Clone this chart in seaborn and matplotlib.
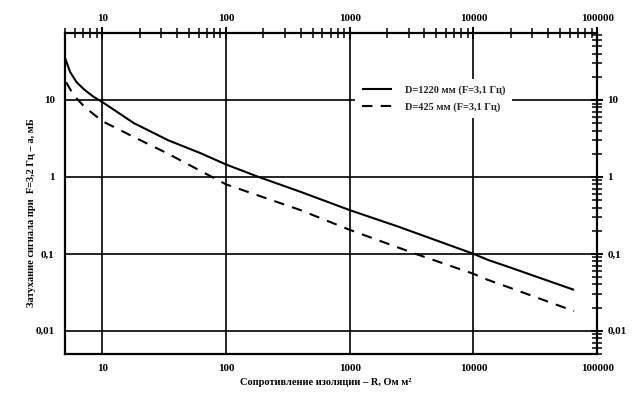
import numpy as np
import pandas as pd
import matplotlib
matplotlib.use("Agg")
import matplotlib.pyplot as plt
from matplotlib.ticker import LogLocator, FixedLocator, FixedFormatter, NullFormatter
import seaborn as sns

# ---- data ----
r_1220 = [5, 5.5, 6.2, 7.2, 8.5, 10, 18, 34, 62, 100, 183, 400, 1000, 2480, 10000, 13200, 19000, 65000]
a_1220 = [35, 23, 17, 13.5, 11, 9.4, 5.0, 3.0, 2.04, 1.45, 1.0, 0.64, 0.37, 0.225, 0.1, 0.083, 0.068, 0.034]

r_425 = [5.1, 5.85, 7.2, 10, 18, 34, 62, 100, 400, 1000, 3400, 10000, 13000, 19000, 65000]
a_425 = [17, 11.6, 8.1, 5.3, 3.3, 2.0, 1.2, 0.8, 0.37, 0.205, 0.1, 0.055, 0.046, 0.037, 0.018]

series_names = ["D=1220 мм (F=3,1 Гц)", "D=425 мм (F=3,1 Гц)"]
x_ticks = [10, 100, 1000, 10000, 100000]
x_tick_labels = ["10", "100", "1000", "10000", "100000"]
y_ticks = [0.01, 0.1, 1, 10]
y_tick_labels = ["0,01", "0,1", "1", "10"]
x_label = "Сопротивление изоляции – R, Ом м²"
y_label = "Затухание сигнала при  F=3,2 Гц – а, мБ"

df = pd.concat([
    pd.DataFrame({"R": r_1220, "a": a_1220, "series": series_names[0]}),
    pd.DataFrame({"R": r_425, "a": a_425, "series": series_names[1]}),
], ignore_index=True)

sns.set_theme(style="white")
plt.rcParams["font.family"] = ["Liberation Serif", "DejaVu Serif"]
plt.rcParams["font.weight"] = "bold"

fig = plt.figure(figsize=(6.38, 3.99), dpi=100)
ax = fig.add_axes([0.102, 0.113, 0.834, 0.804])

sns.lineplot(data=df, x="R", y="a", hue="series", style="series",
             palette=["black", "black"], dashes=[(1, 0), (5, 4)],
             linewidth=1.5, sort=False, estimator=None, ax=ax, legend=False)

ax.set_xscale("log")
ax.set_yscale("log")
ax.set_xlim(5, 100000)
ax.set_ylim(0.005, 74)

for sp in ax.spines.values():
    sp.set_color("black")
    sp.set_linewidth(1.6)

ax.xaxis.set_major_locator(FixedLocator(x_ticks))
ax.xaxis.set_major_formatter(FixedFormatter(x_tick_labels))
ax.yaxis.set_major_locator(FixedLocator(y_ticks))
ax.yaxis.set_major_formatter(FixedFormatter(y_tick_labels))
ax.xaxis.set_minor_locator(LogLocator(base=10, subs=np.arange(2, 10), numticks=20))
ax.yaxis.set_minor_locator(LogLocator(base=10, subs=np.arange(2, 10), numticks=20))
ax.xaxis.set_minor_formatter(NullFormatter())
ax.yaxis.set_minor_formatter(NullFormatter())

ax.tick_params(which="both", direction="inout", color="black",
               top=True, right=True, labeltop=True, labelright=True,
               labelsize=8, labelcolor="black")
ax.tick_params(which="major", length=9, width=1.4, pad=3)
ax.tick_params(which="minor", length=7, width=1.1)
for lab in ax.get_xticklabels() + ax.get_yticklabels():
    lab.set_fontweight("bold")

ax.grid(True, which="major", color="black", linewidth=1.2)

ax.set_xlabel(x_label, fontsize=7.5, fontweight="bold", color="black")
ax.set_ylabel(y_label, fontsize=7.5, fontweight="bold", color="black")
ax.xaxis.set_label_coords(0.49, -0.075)
ax.yaxis.set_label_coords(-0.055, 0.44)

handles = ax.get_lines()[:2]
leg = fig.legend(handles, series_names, loc="center",
                 bbox_to_anchor=(0.68, 0.752), frameon=True,
                 fontsize=7.5, handlelength=2.9, handletextpad=1.3,
                 labelspacing=0.7, borderpad=0.6)
leg.get_frame().set_facecolor("white")
leg.get_frame().set_edgecolor("none")
leg.get_frame().set_alpha(1)
for t in leg.get_texts():
    t.set_fontweight("bold")

fig.savefig("out.png", dpi=100, facecolor="white")
